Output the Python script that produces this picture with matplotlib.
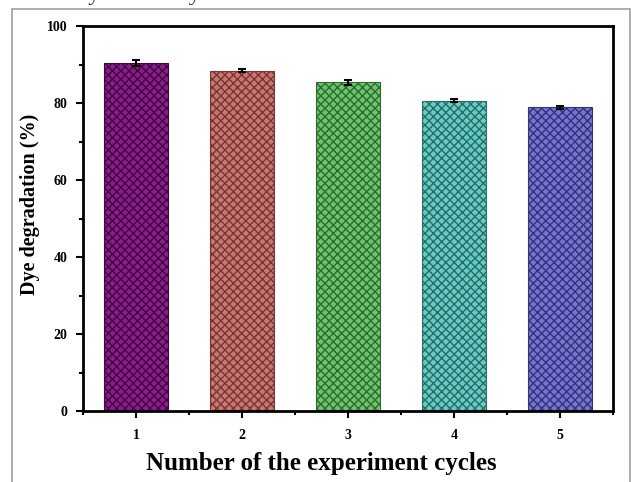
import matplotlib
matplotlib.use("Agg")
import matplotlib.pyplot as plt
from matplotlib.patches import Rectangle
from matplotlib.ticker import MultipleLocator

# data
cycles = [1, 2, 3, 4, 5]
degradation = [90.5, 88.4, 85.4, 80.6, 78.9]
errors = [0.8, 0.4, 0.6, 0.4, 0.4]
bar_colors = ["#8e1a8e", "#d2736e", "#6cc46c", "#62cdc4", "#7373d8"]
hatch_colors = ["#3e0a3e", "#6e3a38", "#2f6a30", "#2c6a66", "#34346e"]

plt.rcParams['font.family'] = ['Liberation Serif', 'DejaVu Serif']
plt.rcParams['font.weight'] = 'bold'
plt.rcParams['hatch.linewidth'] = 1.0

fig = plt.figure(figsize=(6.31, 4.82), dpi=100)
ax = fig.add_axes([0.1315, 0.147, 0.84, 0.799])

# grey frame around the figure, like the page it was cut from
fig.patches.append(Rectangle((12 / 631, -0.05), 618 / 631, 1 - 9 / 482 + 0.05,
                             transform=fig.transFigure, fill=False,
                             edgecolor="#a0a0a0", linewidth=1.2))
# cut-off line of text above the figure
fig.text(340 / 631, 1.0, "photocatalytic activity was observed.", fontsize=17,
         fontweight='normal', color="#333333", va='baseline', ha='right')

for x, v, c, hc in zip(cycles, degradation, bar_colors, hatch_colors):
    ax.bar(x, v, width=0.61, color=c, edgecolor=hc, hatch='xxxx', linewidth=0.8)
ax.errorbar(cycles, degradation, yerr=errors, fmt='none', ecolor='black',
            elinewidth=1.5, capsize=3, capthick=1.5)

ax.set_xlim(0.5, 5.5)
ax.set_ylim(0, 100)
ax.set_xticks(cycles)
ax.xaxis.set_minor_locator(MultipleLocator(0.5))
ax.yaxis.set_major_locator(MultipleLocator(20))
ax.yaxis.set_minor_locator(MultipleLocator(10))
ax.tick_params(which='both', direction='out', width=1.5, labelsize=10)
ax.tick_params(which='major', length=5)
ax.tick_params(axis='x', pad=8)
ax.tick_params(axis='y', pad=6)
ax.tick_params(which='minor', length=3)
for s in ax.spines.values():
    s.set_linewidth(2)

ax.set_xlabel("Number of the experiment cycles", fontsize=18, fontweight='bold')
ax.xaxis.set_label_coords(0.45, -0.105)
ax.set_ylabel("Dye degradation (%)", fontsize=14.5, fontweight='bold')
ax.yaxis.set_label_coords(-0.081, 0.537)

fig.savefig("out.png", dpi=100)
